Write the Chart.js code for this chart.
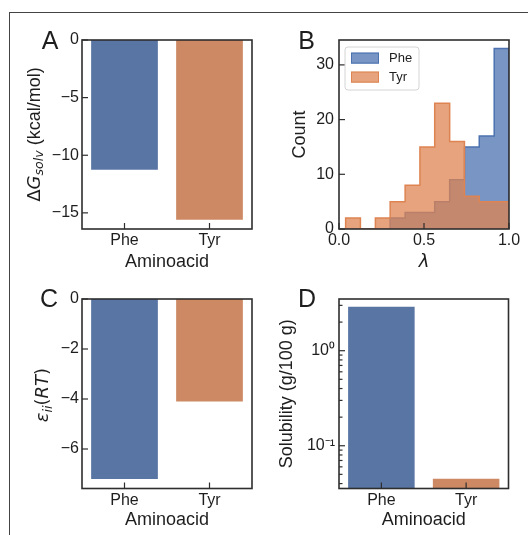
<!DOCTYPE html>
<html><head><meta charset="utf-8">
<script src="https://cdn.jsdelivr.net/npm/chart.js@4/dist/chart.umd.min.js"></script>
<style>
html,body{margin:0;padding:0;background:#fff;}
body{width:528px;height:535px;position:relative;overflow:hidden;}
#frame{position:absolute;left:9px;top:12px;width:600px;height:600px;border-left:1px solid #444;border-top:1px solid #444;}
canvas{position:absolute;left:0;top:0;}
</style></head><body>
<div id="frame"></div>
<canvas id="cA" width="528" height="535"></canvas>
<canvas id="cB" width="528" height="535"></canvas>
<canvas id="cC" width="528" height="535"></canvas>
<canvas id="cD" width="528" height="535"></canvas>
<script>
// ---------- data ----------
const aminoacids = ['Phe', 'Tyr'];
const dGsolv = [-11.25, -15.6];          // kcal/mol
const epsII = [-7.2, -4.1];              // RT
const solubility = [2.9, 0.045];         // g/100 g
const lambdaBinEdges = [0.039, 0.126, 0.214, 0.301, 0.389, 0.476, 0.563, 0.651, 0.738, 0.825, 0.913, 1.0];
const pheCounts = [0, 0, 0, 2, 3, 3, 5, 9, 15, 17, 33];
const tyrCounts = [2, 0, 2, 5, 8, 15, 23, 16, 6, 5, 5];

const dGTicks = [0, -5, -10, -15];
const dGTickLabels = ['0', '\u22125', '\u221210', '\u221215'];
const epsTicks = [0, -2, -4, -6];
const epsTickLabels = ['0', '\u22122', '\u22124', '\u22126'];
const countTicks = [0, 10, 20, 30];
const countTickLabels = ['0', '10', '20', '30'];
const lambdaTicks = [0, 0.5, 1.0];
const lambdaTickLabels = ['0.0', '0.5', '1.0'];
const solTickValues = [0.1, 1];
const solTickLabels = ['10\u207B\u00B9', '10\u2070'];

// ---------- style ----------
const PHE_BAR = '#5975A4', TYR_BAR = '#CC8963';
const PHE_FILL = 'rgba(76,114,176,0.75)', PHE_EDGE = '#4C72B0';
const TYR_FILL = 'rgba(221,132,82,0.75)', TYR_EDGE = '#DD8452';
const FRAME = '#2e2e2e', TXT = '#1e1e1e';
const SANS = "'Liberation Sans', Arial, Helvetica, sans-serif";
const MATH = "'DejaVu Sans', sans-serif";

Chart.defaults.font.family = SANS;
Chart.defaults.color = TXT;
Chart.defaults.animation = false;

function isPow10(v) { const l = Math.log10(v); return Math.abs(l - Math.round(l)) < 1e-9; }

const frameTicks = {
  id: 'frameTicks',
  afterDatasetsDraw(chart) {
    const {ctx, chartArea: a} = chart;
    ctx.save();
    ctx.strokeStyle = FRAME; ctx.lineWidth = 1.2;
    Object.values(chart.scales).forEach(s => {
      s.ticks.forEach((t, i) => {
        const p = s.getPixelForTick(i);
        const major = s.type !== 'logarithmic' || isPow10(t.value);
        const len = major ? 6 : 3.5;
        ctx.beginPath();
        if (s.isHorizontal()) { ctx.moveTo(p, a.bottom); ctx.lineTo(p, a.bottom - len); }
        else { ctx.moveTo(a.left, p); ctx.lineTo(a.left + len, p); }
        ctx.stroke();
      });
    });
    ctx.lineWidth = 1.6;
    ctx.strokeRect(a.left, a.top, a.right - a.left, a.bottom - a.top);
    ctx.restore();
  }
};

function letterPlugin(letter, x, y) {
  return { id: 'letter' + letter, afterDraw(chart) {
    const ctx = chart.ctx; ctx.save();
    ctx.font = '25px ' + SANS; ctx.fillStyle = TXT; ctx.textAlign = 'center'; ctx.textBaseline = 'alphabetic';
    ctx.fillText(letter, x, y); ctx.restore();
  }};
}

function richTitlePlugin(bx, cy, parts) {
  return { id: 'richTitle', afterDraw(chart) {
    const ctx = chart.ctx; ctx.save();
    ctx.translate(bx, cy); ctx.rotate(-Math.PI / 2);
    ctx.fillStyle = TXT; ctx.textBaseline = 'alphabetic'; ctx.textAlign = 'left';
    let total = 0;
    parts.forEach(p => { ctx.font = p.font; p.w = ctx.measureText(p.text).width; total += p.w; });
    let x = -total / 2;
    parts.forEach(p => { ctx.font = p.font; ctx.fillText(p.text, x, p.dy || 0); x += p.w; });
    ctx.restore();
  }};
}

const histLegend = {
  id: 'histLegend',
  afterDraw(chart) {
    const {ctx, chartArea: a} = chart;
    const x0 = a.left + 6, y0 = a.top + 7, w = 74, h = 43, r = 3;
    ctx.save();
    ctx.beginPath();
    ctx.moveTo(x0 + r, y0); ctx.lineTo(x0 + w - r, y0); ctx.arcTo(x0 + w, y0, x0 + w, y0 + r, r);
    ctx.lineTo(x0 + w, y0 + h - r); ctx.arcTo(x0 + w, y0 + h, x0 + w - r, y0 + h, r);
    ctx.lineTo(x0 + r, y0 + h); ctx.arcTo(x0, y0 + h, x0, y0 + h - r, r);
    ctx.lineTo(x0, y0 + r); ctx.arcTo(x0, y0, x0 + r, y0, r); ctx.closePath();
    ctx.fillStyle = 'rgba(255,255,255,0.85)'; ctx.fill();
    ctx.strokeStyle = '#d4d4d4'; ctx.lineWidth = 1; ctx.stroke();
    chart.data.datasets.forEach((ds, i) => {
      const py = y0 + 5.6 + i * 19;
      ctx.fillStyle = '#fff'; ctx.fillRect(x0 + 6, py, 28, 11);
      ctx.fillStyle = ds.backgroundColor; ctx.fillRect(x0 + 6, py, 28, 11);
      ctx.strokeStyle = ds.borderColor; ctx.lineWidth = 1; ctx.strokeRect(x0 + 6.5, py + 0.5, 27, 10);
      ctx.fillStyle = TXT; ctx.font = '13px ' + SANS; ctx.textBaseline = 'middle'; ctx.textAlign = 'left';
      ctx.fillText(ds.label, x0 + 44, py + 6);
    });
    ctx.restore();
  }
};

const noGrid = { display: false, drawTicks: false };
const tickFont = { size: 16, lineHeight: 1 };
const titleFont = { size: 18, lineHeight: 1 };

function catX(titlePadBottom) {
  return {
    grid: noGrid, border: { display: false },
    ticks: { font: tickFont, padding: 4, color: TXT, autoSkip: false, maxRotation: 0 },
    title: { display: true, text: 'Aminoacid', font: titleFont, padding: { top: 0, bottom: titlePadBottom }, color: TXT },
    afterFit: s => { s.height = 45; }
  };
}
function linY(min, max, vals, labels, width, pad) {
  return {
    min, max, bounds: 'data', grid: noGrid, border: { display: false },
    ticks: { font: tickFont, padding: pad, color: TXT, autoSkip: false, callback: (v, i) => labels[i] },
    afterBuildTicks: s => { s.ticks = vals.map(v => ({ value: v })); },
    afterFit: s => { s.width = width; }
  };
}
function stepPoints(edges, counts) {
  const pts = [{ x: edges[0], y: 0 }];
  counts.forEach((c, i) => pts.push({ x: edges[i], y: c }));
  pts.push({ x: edges[edges.length - 1], y: 0 });
  return pts;
}
// log-axis tick positions: 1..9 x 10^e inside the scale range
function logTicks(s) {
  const t = [];
  for (let e = Math.floor(Math.log10(s.min)); e <= Math.ceil(Math.log10(s.max)); e++) {
    for (let m = 1; m <= 9; m++) {
      const v = parseFloat((m * Math.pow(10, e)).toPrecision(6));
      if (v >= s.min && v <= s.max) t.push({ value: v, major: m === 1 });
    }
  }
  s.ticks = t;
}
const common = { responsive: false, animation: false, devicePixelRatio: 1, events: [] };
const noPlug = { legend: { display: false }, tooltip: { enabled: false }, title: { display: false } };

// ---------- A ----------
new Chart(document.getElementById('cA'), {
  type: 'bar',
  data: { labels: aminoacids, datasets: [{ data: dGsolv, backgroundColor: [PHE_BAR, TYR_BAR], borderWidth: 0, barPercentage: 0.785, categoryPercentage: 1 }] },
  options: { ...common,
    layout: { padding: { left: 0, top: 40, right: 528 - 252, bottom: 535 - 229 - 45 } },
    plugins: noPlug,
    scales: { x: catX(3), y: linY(-16.4, 0, dGTicks, dGTickLabels, 82, 3) } },
  plugins: [frameTicks, letterPlugin('A', 50, 49),
    richTitlePlugin(39.5, 134.5, [
      { text: '\u0394', font: '18px ' + MATH },
      { text: 'G', font: 'italic 18px ' + MATH },
      { text: 'solv', font: 'italic 12.6px ' + MATH, dy: 3.6 },
      { text: ' (kcal/mol)', font: '18px ' + SANS }
    ])]
});

// ---------- B ----------
new Chart(document.getElementById('cB'), {
  type: 'line',
  data: { datasets: [
    { label: 'Phe', data: stepPoints(lambdaBinEdges, pheCounts), borderColor: PHE_EDGE, backgroundColor: PHE_FILL,
      fill: 'origin', stepped: 'before', pointRadius: 0, borderWidth: 1.5, order: 1 },
    { label: 'Tyr', data: stepPoints(lambdaBinEdges, tyrCounts), borderColor: TYR_EDGE, backgroundColor: TYR_FILL,
      fill: 'origin', stepped: 'before', pointRadius: 0, borderWidth: 1.5, order: 0 }
  ] },
  options: { ...common,
    layout: { padding: { left: 264, top: 40, right: 528 - 509, bottom: 535 - 229 - 45 } },
    plugins: noPlug,
    scales: {
      x: { type: 'linear', min: 0, max: 1, bounds: 'data', grid: noGrid, border: { display: false },
        ticks: { font: tickFont, padding: 3.5, color: TXT, autoSkip: false, maxRotation: 0, callback: (v, i) => lambdaTickLabels[i] },
        afterBuildTicks: s => { s.ticks = lambdaTicks.map(v => ({ value: v })); },
        title: { display: true, text: '\u03BB', font: { size: 18, lineHeight: 1, style: 'italic', family: MATH }, padding: { top: 0, bottom: 3 }, color: TXT },
        afterFit: s => { s.height = 45; } },
      y: { ...linY(0, 34.55, countTicks, countTickLabels, 75, 5),
        title: { display: true, text: 'Count', font: titleFont, padding: { top: 27.5, bottom: 0 }, color: TXT } }
    } },
  plugins: [frameTicks, histLegend, letterPlugin('B', 306.5, 49)]
});

// ---------- C ----------
new Chart(document.getElementById('cC'), {
  type: 'bar',
  data: { labels: aminoacids, datasets: [{ data: epsII, backgroundColor: [PHE_BAR, TYR_BAR], borderWidth: 0, barPercentage: 0.785, categoryPercentage: 1 }] },
  options: { ...common,
    layout: { padding: { left: 0, top: 299, right: 528 - 252, bottom: 535 - 488.5 - 45 } },
    plugins: noPlug,
    scales: { x: catX(4), y: linY(-7.58, 0, epsTicks, epsTickLabels, 82, 3) } },
  plugins: [frameTicks, letterPlugin('C', 49, 306.7),
    richTitlePlugin(48, 395, [
      { text: '\u03B5', font: 'italic 18px ' + MATH },
      { text: 'ii', font: 'italic 12.6px ' + MATH, dy: 3.6 },
      { text: '(', font: '18px ' + MATH },
      { text: 'RT', font: 'italic 18px ' + MATH },
      { text: ')', font: '18px ' + MATH }
    ])]
});

// ---------- D ----------
new Chart(document.getElementById('cD'), {
  type: 'bar',
  data: { labels: aminoacids, datasets: [{ data: solubility, backgroundColor: [PHE_BAR, TYR_BAR], borderWidth: 0, barPercentage: 0.785, categoryPercentage: 1 }] },
  options: { ...common,
    layout: { padding: { left: 264, top: 299, right: 528 - 508.5, bottom: 535 - 488.5 - 45 } },
    plugins: noPlug,
    scales: {
      x: catX(4),
      y: { type: 'logarithmic', min: 0.0355, max: 3.5, grid: noGrid, border: { display: false },
        ticks: { font: tickFont, padding: 4, color: TXT, autoSkip: false,
          callback: (v) => { const k = solTickValues.findIndex(t => Math.abs(t - v) / t < 1e-6); return k >= 0 ? solTickLabels[k] : ''; } },
        afterBuildTicks: logTicks,
        title: { display: true, text: 'Solubility (g/100 g)', font: titleFont, padding: { top: 14.5, bottom: 0 }, color: TXT },
        afterFit: s => { s.width = 339 - 264; } }
    } },
  plugins: [frameTicks, letterPlugin('D', 307, 306.7)]
});
</script>
</body></html>
